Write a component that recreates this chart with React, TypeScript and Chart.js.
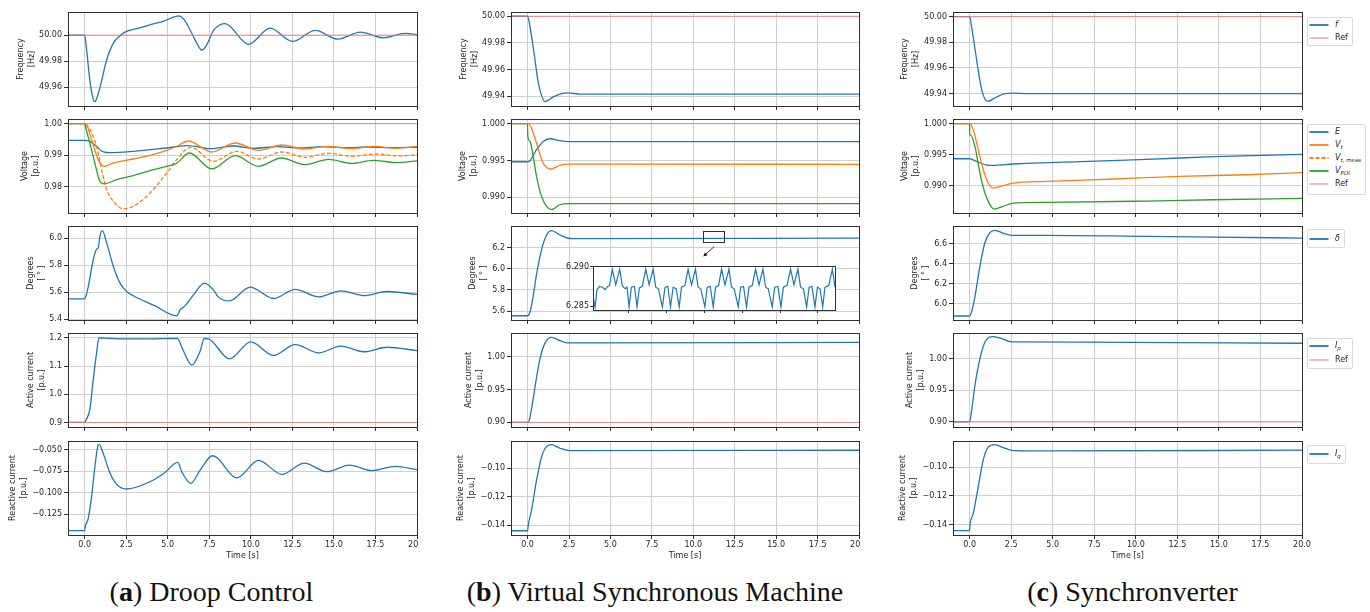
import React, { useEffect, useRef } from 'react';
import { Chart, registerables } from 'chart.js';

Chart.register(...registerables);

// ---------------- shared values ----------------
const T_MIN = -1;
const T_MAX = 20;
const TIME_TICKS = [0, 2.5, 5, 7.5, 10, 12.5, 15, 17.5, 20];
const REF_FREQ = 50.0;
const REF_VOLT = 1.0;
const REF_ACTIVE = 0.9;

// ---------------- (a) Droop Control ----------------
const A_FREQ_T = [-1, 0, 0.12, 0.32, 0.52, 0.62, 0.72, 0.92, 1.33, 1.73, 2.13, 2.43, 3.2, 3.94, 4.8, 5.68, 5.95, 6.35, 6.75, 7.05, 7.35, 7.75, 8.15, 8.45, 9.86, 11.16, 12.51, 13.88, 15.24, 16.59, 17.95, 19.3, 20];
const A_FREQ = [50, 50, 49.9888, 49.9646, 49.9506, 49.9488, 49.951, 49.9595, 49.9811, 49.9939, 49.9995, 50.0023, 50.0052, 50.0079, 50.011, 50.0148, 50.0125, 50.004, 49.9939, 49.9885, 49.9925, 50.0035, 50.008, 50.0089, 49.9929, 50.0054, 49.9952, 50.0036, 49.9969, 50.0023, 49.998, 50.0013, 50.0003];

const A_E_T = [-1, 0, 0.32, 0.72, 1.02, 1.3, 1.6, 2.93, 4.94, 6.24, 7.55, 8.96, 10.16, 11.6, 12.9, 14.3, 15.7, 17.1, 18.5, 20];
const A_E = [0.9947, 0.9947, 0.99439, 0.9928, 0.9913, 0.99085, 0.9908, 0.99122, 0.99228, 0.99302, 0.99206, 0.99291, 0.99217, 0.9927, 0.99228, 0.9927, 0.99238, 0.99259, 0.99238, 0.99249];
const A_VT_T = [-1, 0, 0.15, 0.42, 0.82, 1.16, 1.73, 2.93, 3.94, 4.94, 5.6, 6.24, 7.65, 9.06, 10.46, 11.87, 13.27, 14.68, 16.08, 17.39, 18.8, 20];
const A_VT = [1.0, 1.0, 0.9993, 0.9949, 0.98857, 0.98645, 0.98751, 0.98878, 0.98995, 0.99153, 0.993, 0.9945, 0.991, 0.99386, 0.99153, 0.99323, 0.99196, 0.9928, 0.99206, 0.9928, 0.9922, 0.9928];
const A_VTM_T = [-1, 0, 0.32, 0.72, 1.02, 1.33, 1.73, 2.33, 2.93, 3.94, 4.94, 5.54, 6.39, 7.75, 9.16, 10.46, 11.87, 13.27, 14.68, 16.08, 17.49, 18.9, 20];
const A_VTM = [1.0, 1.0, 0.9981, 0.9928, 0.9854, 0.979, 0.97534, 0.97291, 0.97376, 0.97799, 0.98434, 0.98857, 0.99249, 0.98804, 0.99122, 0.98878, 0.99101, 0.98931, 0.99058, 0.98963, 0.99037, 0.98974, 0.99016];
const A_VPOI_T = [-1, 0, 0.08, 0.52, 0.88, 1.16, 1.93, 2.93, 3.94, 4.94, 5.5, 6.31, 7.65, 9.06, 10.46, 11.83, 13.27, 14.68, 16.08, 17.39, 18.8, 20];
const A_VPOI = [1.0, 1.0, 0.9985, 0.9896, 0.98222, 0.98085, 0.98222, 0.98349, 0.98508, 0.98645, 0.9873, 0.99069, 0.98561, 0.98984, 0.98645, 0.9891, 0.98698, 0.98868, 0.98741, 0.98836, 0.9876, 0.98815];

const A_DEG_T = [-1, 0, 0.08, 0.22, 0.52, 0.72, 0.82, 0.92, 1.06, 1.33, 1.73, 2.13, 2.53, 2.93, 4.2, 5.54, 5.74, 6.04, 6.55, 7.21, 7.75, 8.05, 8.71, 9.96, 11.37, 12.67, 14.08, 15.42, 16.79, 18.19, 20];
const A_DEG = [5.55, 5.55, 5.571, 5.642, 5.841, 5.92, 5.93, 6.015, 6.057, 5.965, 5.791, 5.667, 5.605, 5.573, 5.5, 5.424, 5.468, 5.498, 5.58, 5.667, 5.617, 5.563, 5.535, 5.637, 5.553, 5.62, 5.565, 5.61, 5.575, 5.605, 5.583];

const A_ACT_T = [-1, 0, 0.12, 0.32, 0.52, 0.72, 0.86, 2, 4, 5.58, 5.9, 6.45, 6.95, 7.2, 7.45, 8.71, 10.0, 11.37, 12.67, 14.08, 15.42, 16.79, 18.19, 20];
const A_ACT = [0.9, 0.9, 0.912, 0.948, 1.053, 1.147, 1.2, 1.197, 1.197, 1.198, 1.16, 1.1035, 1.153, 1.198, 1.197, 1.126, 1.186, 1.138, 1.176, 1.147, 1.171, 1.151, 1.167, 1.155];

const A_REA_T = [-1, 0, 0.04, 0.22, 0.42, 0.62, 0.82, 0.88, 1.12, 1.53, 1.93, 2.53, 3.94, 4.8, 5.6, 5.84, 6.39, 6.95, 7.69, 7.95, 9.16, 10.46, 11.87, 13.21, 14.58, 15.94, 17.29, 18.69, 20];
const A_REA = [-0.1439, -0.1439, -0.139, -0.1296, -0.1045, -0.0697, -0.0446, -0.0442, -0.0543, -0.0774, -0.0902, -0.0956, -0.0871, -0.077, -0.0647, -0.0755, -0.089, -0.0736, -0.057, -0.059, -0.0828, -0.0624, -0.0786, -0.0655, -0.0755, -0.0678, -0.0743, -0.0693, -0.0732];

// ---------------- (b) Virtual Synchronous Machine ----------------
const B_FREQ_T = [-1, 0, 0.14, 0.44, 0.64, 0.84, 1.05, 1.55, 2.05, 2.45, 3.2, 20];
const B_FREQ = [50, 50, 49.9926, 49.9678, 49.9504, 49.9405, 49.9358, 49.9393, 49.9418, 49.9423, 49.9415, 49.9415];

const B_E_T = [-1, 0, 0.14, 0.54, 0.94, 1.35, 1.95, 2.45, 20];
const B_E = [0.99484, 0.99484, 0.99498, 0.99647, 0.9976, 0.99796, 0.99769, 0.99756, 0.99756];
const B_VT_T = [-1, 0, 0.1, 0.24, 0.54, 0.94, 1.39, 1.95, 2.45, 20];
const B_VT = [1.0, 1.0, 0.99995, 0.9994, 0.99738, 0.99466, 0.99385, 0.99435, 0.99452, 0.99448];
const B_VPOI_T = [-1, 0, 0.01, 0.14, 0.34, 0.54, 0.84, 1.45, 1.95, 2.45, 20];
const B_VPOI = [1.0, 1.0, 0.99837, 0.9976, 0.99557, 0.99285, 0.99014, 0.98833, 0.989, 0.98914, 0.98914];

const B_DEG_T = [-1, 0, 0.14, 0.34, 0.54, 0.84, 1.15, 1.45, 1.95, 2.45, 2.75, 20];
const B_DEG = [5.556, 5.556, 5.587, 5.743, 5.945, 6.178, 6.318, 6.359, 6.318, 6.287, 6.284, 6.2875];

const B_ACT_T = [-1, 0, 0.1, 0.3, 0.5, 0.74, 1.05, 1.45, 1.95, 2.45, 20];
const B_ACT = [0.9, 0.9, 0.903, 0.93, 0.962, 0.996, 1.0206, 1.0294, 1.0245, 1.021, 1.0216];

const B_REA_T = [-1, 0, 0.04, 0.24, 0.54, 0.84, 1.15, 1.45, 1.95, 2.55, 20];
const B_REA = [-0.144, -0.144, -0.14, -0.1295, -0.1086, -0.0923, -0.0847, -0.0835, -0.086, -0.0877, -0.0874];

// inset of (b) rotor angle
const INSET_T_RANGE = [10.61, 11.89];
const INSET_Y_RANGE = [6.2845, 6.2901];
const INSET_X_TICKS = [10.8, 11.0, 11.2, 11.4, 11.6, 11.8];
const INSET_Y_TICKS = [6.285, 6.29];
const ZOOM_BOX_Y = [6.252, 6.356];
const ARROW_FROM = [11.25, 6.207];
const ARROW_TO = [10.6, 6.114];
const INSET_T = [10.61, 10.621, 10.631, 10.645, 10.659, 10.674, 10.688, 10.698, 10.712, 10.73, 10.751, 10.765, 10.78, 10.79, 10.801, 10.813, 10.829, 10.843, 10.855, 10.871, 10.889, 10.907, 10.928, 10.942, 10.956, 10.977, 10.991, 11.006, 11.02, 11.034, 11.05, 11.066, 11.078, 11.096, 11.113, 11.131, 11.152, 11.166, 11.18, 11.202, 11.214, 11.23, 11.246, 11.258, 11.274, 11.29, 11.308, 11.329, 11.343, 11.357, 11.378, 11.391, 11.406, 11.422, 11.435, 11.452, 11.47, 11.488, 11.509, 11.523, 11.537, 11.558, 11.571, 11.588, 11.604, 11.617, 11.636, 11.655, 11.673, 11.694, 11.708, 11.723, 11.74, 11.753, 11.768, 11.784, 11.797, 11.811, 11.825, 11.837, 11.857, 11.876, 11.89];
const INSET_DEG = [6.2862, 6.2849, 6.2871, 6.2875, 6.2874, 6.2871, 6.2875, 6.2876, 6.2897, 6.2877, 6.2897, 6.2876, 6.2872, 6.2874, 6.2849, 6.2874, 6.2875, 6.2849, 6.2873, 6.2875, 6.2897, 6.2877, 6.2897, 6.2874, 6.2872, 6.2849, 6.2874, 6.2875, 6.2849, 6.2874, 6.2872, 6.2849, 6.2874, 6.2876, 6.2897, 6.2877, 6.2897, 6.2874, 6.2872, 6.2849, 6.2874, 6.2875, 6.2849, 6.2874, 6.2876, 6.2897, 6.2877, 6.2897, 6.2874, 6.2872, 6.2849, 6.2874, 6.2875, 6.2849, 6.2874, 6.2876, 6.2897, 6.2877, 6.2897, 6.2874, 6.2872, 6.2849, 6.2874, 6.2875, 6.2849, 6.2874, 6.2876, 6.2897, 6.2877, 6.2897, 6.2874, 6.2872, 6.2849, 6.2874, 6.2875, 6.2849, 6.2874, 6.2872, 6.2849, 6.2874, 6.2876, 6.2897, 6.2874];

// ---------------- (c) Synchronverter ----------------
const C_FREQ_T = [-1, 0, 0.12, 0.42, 0.72, 1.08, 1.62, 2.12, 2.63, 3.5, 20];
const C_FREQ = [50, 50, 49.992, 49.9665, 49.9434, 49.934, 49.9374, 49.94, 49.9405, 49.94, 49.94];

const C_E_T = [-1, 0, 0.42, 1.02, 1.42, 2.63, 6.63, 10.64, 14.65, 20];
const C_E = [0.99435, 0.99435, 0.99392, 0.99333, 0.99328, 0.9935, 0.99387, 0.99425, 0.99468, 0.99505];
const C_VT_T = [-1, 0, 0.22, 0.52, 0.82, 1.12, 1.42, 2.02, 2.63, 4.63, 8.64, 12.65, 16.65, 20];
const C_VT = [1.0, 1.0, 0.99903, 0.99581, 0.99258, 0.99043, 0.98962, 0.99, 0.99043, 0.9907, 0.99108, 0.99151, 0.99177, 0.9921];
const C_VPOI_T = [-1, 0, 0.01, 0.06, 0.32, 0.62, 0.92, 1.22, 1.46, 2.02, 2.63, 4.63, 10.64, 14.65, 20];
const C_VPOI = [1.0, 1.0, 0.99823, 0.99815, 0.99634, 0.99204, 0.98882, 0.98694, 0.98624, 0.98667, 0.9872, 0.98731, 0.98753, 0.98774, 0.98796];

const C_DEG_T = [-1, 0, 0.12, 0.32, 0.62, 0.92, 1.22, 1.52, 2.02, 2.53, 4.63, 10.64, 14.65, 20];
const C_DEG = [5.875, 5.875, 5.919, 6.07, 6.374, 6.61, 6.711, 6.735, 6.705, 6.684, 6.684, 6.674, 6.667, 6.657];

const C_ACT_T = [-1, 0, 0.12, 0.32, 0.62, 0.92, 1.42, 2.02, 2.53, 6.63, 20];
const C_ACT = [0.9, 0.9, 0.918, 0.9577, 1.0, 1.026, 1.0349, 1.0307, 1.0265, 1.026, 1.0243];

const C_REA_T = [-1, 0, 0.02, 0.22, 0.52, 0.82, 1.12, 1.52, 2.02, 2.63, 4.63, 20];
const C_REA = [-0.1442, -0.1442, -0.1407, -0.1321, -0.1135, -0.0949, -0.086, -0.0842, -0.0863, -0.0884, -0.0886, -0.0881];

// ---------------- styles ----------------
const BLUE = '#1f77b4';
const ORANGE = '#ff7f0e';
const GREEN = '#2ca02c';
const REF_COLOR = 'rgba(240,120,120,0.85)';
const GRID = '#cfcfcf';
const DARK = '#303030';
const TEXT = '#262626';
const FONT = 'DejaVu Sans';

Chart.defaults.font.family = FONT;

// layout
const COL_LEFT = [68, 511, 953];
const COL_RIGHT = [417, 859, 1302];
const ROW_TOP = [12, 119, 226, 333, 441];
const PLOT_H = 94;
const YW = 64;
const PAD_TOP = 6;
const RIGHT_PAD = [1, 1, 14];

type Series = { t: number[]; v: number[]; color: string; dash?: number[] };
type PanelSpec = {
  id: string; col: number; row: number; yMin: number; yMax: number;
  yTicks: number[]; yDec: number; yTitle: string[]; gap: number;
  series: Series[]; ref?: number; zoom?: boolean;
};

const TITLE_FREQ = ['Frequency', '[Hz]'];
const TITLE_VOLT = ['Voltage', '[p.u.]'];
const TITLE_DEG = ['Degrees', '[ ° ]'];
const TITLE_ACT = ['Active current', '[p.u.]'];
const TITLE_REA = ['Reactive current', '[p.u.]'];

const PANELS: PanelSpec[] = [
  { id: 'af', col: 0, row: 0, yMin: 49.9455, yMax: 50.0178, yTicks: [49.96, 49.98, 50.0], yDec: 2, yTitle: TITLE_FREQ, gap: 47, series: [{ t: A_FREQ_T, v: A_FREQ, color: BLUE }], ref: REF_FREQ },
  { id: 'av', col: 0, row: 1, yMin: 0.9716, yMax: 1.0015, yTicks: [0.98, 0.99, 1.0], yDec: 2, yTitle: TITLE_VOLT, gap: 43, series: [
    { t: A_E_T, v: A_E, color: BLUE }, { t: A_VT_T, v: A_VT, color: ORANGE }, { t: A_VTM_T, v: A_VTM, color: ORANGE, dash: [4, 2] }, { t: A_VPOI_T, v: A_VPOI, color: GREEN }], ref: REF_VOLT },
  { id: 'ad', col: 0, row: 2, yMin: 5.393, yMax: 6.092, yTicks: [5.4, 5.6, 5.8, 6.0], yDec: 1, yTitle: TITLE_DEG, gap: 37, series: [{ t: A_DEG_T, v: A_DEG, color: BLUE }] },
  { id: 'aa', col: 0, row: 3, yMin: 0.8838, yMax: 1.2176, yTicks: [0.9, 1.0, 1.1, 1.2], yDec: 1, yTitle: TITLE_ACT, gap: 37, series: [{ t: A_ACT_T, v: A_ACT, color: BLUE }], ref: REF_ACTIVE },
  { id: 'ar', col: 0, row: 4, yMin: -0.149, yMax: -0.0399, yTicks: [-0.125, -0.1, -0.075, -0.05], yDec: 3, yTitle: TITLE_REA, gap: 55, series: [{ t: A_REA_T, v: A_REA, color: BLUE }] },

  { id: 'bf', col: 1, row: 0, yMin: 49.9325, yMax: 50.0032, yTicks: [49.94, 49.96, 49.98, 50.0], yDec: 2, yTitle: TITLE_FREQ, gap: 47, series: [{ t: B_FREQ_T, v: B_FREQ, color: BLUE }], ref: REF_FREQ },
  { id: 'bv', col: 1, row: 1, yMin: 0.98788, yMax: 1.00064, yTicks: [0.99, 0.995, 1.0], yDec: 3, yTitle: TITLE_VOLT, gap: 48, series: [
    { t: B_E_T, v: B_E, color: BLUE }, { t: B_VT_T, v: B_VT, color: ORANGE }, { t: B_VPOI_T, v: B_VPOI, color: GREEN }], ref: REF_VOLT },
  { id: 'bd', col: 1, row: 2, yMin: 5.516, yMax: 6.4024, yTicks: [5.6, 5.8, 6.0, 6.2], yDec: 1, yTitle: TITLE_DEG, gap: 38, series: [{ t: B_DEG_T, v: B_DEG, color: BLUE }], zoom: true },
  { id: 'ba', col: 1, row: 3, yMin: 0.893, yMax: 1.036, yTicks: [0.9, 0.95, 1.0], yDec: 2, yTitle: TITLE_ACT, gap: 42, series: [{ t: B_ACT_T, v: B_ACT, color: BLUE }], ref: REF_ACTIVE },
  { id: 'br', col: 1, row: 4, yMin: -0.147, yMax: -0.0809, yTicks: [-0.14, -0.12, -0.1], yDec: 2, yTitle: TITLE_REA, gap: 50, series: [{ t: B_REA_T, v: B_REA, color: BLUE }] },

  { id: 'cf', col: 2, row: 0, yMin: 49.9304, yMax: 50.0036, yTicks: [49.94, 49.96, 49.98, 50.0], yDec: 2, yTitle: TITLE_FREQ, gap: 48, series: [{ t: C_FREQ_T, v: C_FREQ, color: BLUE }], ref: REF_FREQ },
  { id: 'cv', col: 2, row: 1, yMin: 0.9856, yMax: 1.00076, yTicks: [0.99, 0.995, 1.0], yDec: 3, yTitle: TITLE_VOLT, gap: 48, series: [
    { t: C_E_T, v: C_E, color: BLUE }, { t: C_VT_T, v: C_VT, color: ORANGE }, { t: C_VPOI_T, v: C_VPOI, color: GREEN }], ref: REF_VOLT },
  { id: 'cd', col: 2, row: 2, yMin: 5.835, yMax: 6.778, yTicks: [6.0, 6.2, 6.4, 6.6], yDec: 1, yTitle: TITLE_DEG, gap: 38, series: [{ t: C_DEG_T, v: C_DEG, color: BLUE }] },
  { id: 'ca', col: 2, row: 3, yMin: 0.892, yMax: 1.0405, yTicks: [0.9, 0.95, 1.0], yDec: 2, yTitle: TITLE_ACT, gap: 43, series: [{ t: C_ACT_T, v: C_ACT, color: BLUE }], ref: REF_ACTIVE },
  { id: 'cr', col: 2, row: 4, yMin: -0.1472, yMax: -0.0817, yTicks: [-0.14, -0.12, -0.1], yDec: 2, yTitle: TITLE_REA, gap: 50, series: [{ t: C_REA_T, v: C_REA, color: BLUE }] },
];

const fmt = (v: number, dec: number) => v.toFixed(dec).replace('-', '\u2212');

const alignPx = (p: number) => Math.round(p - 0.5) + 0.5;

const framePlugin = {
  id: 'frame',
  afterDatasetsDraw(chart: any) {
    const { ctx, chartArea: a } = chart;
    ctx.save();
    ctx.strokeStyle = DARK;
    ctx.lineWidth = 1;
    const l = alignPx(a.left), r = alignPx(a.right), t = alignPx(a.top), b = alignPx(a.bottom);
    ctx.strokeRect(l, t, r - l, b - t);
    ctx.restore();
  },
};

const whiteAreaPlugin = {
  id: 'whiteArea',
  beforeDraw(chart: any) {
    const { ctx, chartArea: a } = chart;
    ctx.save();
    ctx.fillStyle = '#ffffff';
    ctx.fillRect(a.left, a.top, a.right - a.left, a.bottom - a.top);
    ctx.restore();
  },
};

const zoomMarkPlugin = {
  id: 'zoomMark',
  afterDatasetsDraw(chart: any) {
    const { ctx } = chart;
    const xs = chart.scales.x, ys = chart.scales.y;
    const x0 = xs.getPixelForValue(INSET_T_RANGE[0]);
    const x1 = xs.getPixelForValue(INSET_T_RANGE[1]);
    const y0 = ys.getPixelForValue(ZOOM_BOX_Y[1]);
    const y1 = ys.getPixelForValue(ZOOM_BOX_Y[0]);
    ctx.save();
    ctx.strokeStyle = DARK;
    ctx.lineWidth = 1;
    ctx.strokeRect(Math.round(x0) + 0.5, Math.round(y0) + 0.5, Math.round(x1 - x0), Math.round(y1 - y0));
    const ax0 = xs.getPixelForValue(ARROW_FROM[0]), ay0 = ys.getPixelForValue(ARROW_FROM[1]);
    const ax1 = xs.getPixelForValue(ARROW_TO[0]), ay1 = ys.getPixelForValue(ARROW_TO[1]);
    const ang = Math.atan2(ay1 - ay0, ax1 - ax0);
    const hl = 4.5;
    ctx.beginPath();
    ctx.moveTo(ax0, ay0);
    ctx.lineTo(ax1 - 2 * Math.cos(ang), ay1 - 2 * Math.sin(ang));
    ctx.stroke();
    ctx.fillStyle = '#111';
    ctx.beginPath();
    ctx.moveTo(ax1, ay1);
    ctx.lineTo(ax1 - hl * Math.cos(ang - 0.45), ay1 - hl * Math.sin(ang - 0.45));
    ctx.lineTo(ax1 - hl * Math.cos(ang + 0.45), ay1 - hl * Math.sin(ang + 0.45));
    ctx.closePath();
    ctx.fill();
    ctx.restore();
  },
};

function panelGeom(p: PanelSpec) {
  const isBottom = p.row === 4;
  const bottomH = isBottom ? 28 : 6;
  const left = COL_LEFT[p.col] - YW;
  const top = ROW_TOP[p.row] - PAD_TOP;
  const width = YW + (COL_RIGHT[p.col] - COL_LEFT[p.col]) + RIGHT_PAD[p.col];
  const height = PAD_TOP + PLOT_H + bottomH;
  return { isBottom, bottomH, left, top, width, height };
}

const fixX = (h: number) => (s: any) => { s.height = h; s.paddingLeft = 0; s.paddingRight = 0; };
const fixY = (w: number) => (s: any) => { s.width = w; s.paddingTop = 0; s.paddingBottom = 0; };

function buildConfig(p: PanelSpec): any {
  const g = panelGeom(p);
  const n = p.series.length;
  const datasets: any[] = p.series.map((s, i) => ({
    data: s.t.map((x, k) => ({ x, y: s.v[k] })),
    borderColor: s.color,
    borderWidth: 1.3,
    borderDash: s.dash || [],
    pointRadius: 0,
    fill: false,
    cubicInterpolationMode: 'monotone',
    order: n - i + 1,
  }));
  if (p.ref !== undefined) {
    datasets.push({
      data: [{ x: T_MIN, y: p.ref }, { x: T_MAX, y: p.ref }],
      borderColor: REF_COLOR,
      borderWidth: 1,
      pointRadius: 0,
      fill: false,
      order: 0,
    });
  }
  const lh = 8 * 1.35;
  const titlePad = YW - p.gap - lh / 2;
  const plugins: any[] = [framePlugin];
  if (p.zoom) plugins.push(zoomMarkPlugin);
  return {
    type: 'line',
    data: { datasets },
    plugins,
    options: {
      responsive: false,
      animation: false,
      devicePixelRatio: 1,
      events: [],
      layout: { padding: { top: PAD_TOP, right: RIGHT_PAD[p.col], left: 0, bottom: 0 }, autoPadding: false },
      plugins: { legend: { display: false }, tooltip: { enabled: false }, title: { display: false } },
      scales: {
        x: {
          type: 'linear',
          min: T_MIN,
          max: T_MAX,
          bounds: 'data',
          afterBuildTicks: (s: any) => { s.ticks = TIME_TICKS.map((v) => ({ value: v })); },
          afterFit: fixX(g.bottomH),
          grid: { color: GRID, lineWidth: 1, drawTicks: true, tickLength: 4, tickColor: DARK },
          border: { display: false },
          ticks: {
            display: g.isBottom, color: TEXT, font: { family: FONT, size: 8 }, padding: 1.5,
            maxRotation: 0, autoSkip: false, callback: (v: any) => fmt(Number(v), 1),
          },
          title: {
            display: g.isBottom, text: 'Time [s]', color: TEXT,
            font: { family: FONT, size: 8, lineHeight: 1.2 }, padding: { top: 0, bottom: 2.5 },
          },
        },
        y: {
          type: 'linear',
          min: p.yMin,
          max: p.yMax,
          bounds: 'data',
          afterBuildTicks: (s: any) => { s.ticks = p.yTicks.map((v) => ({ value: v })); },
          afterFit: fixY(YW),
          grid: { color: GRID, lineWidth: 1, drawTicks: true, tickLength: 4, tickColor: DARK },
          border: { display: false },
          ticks: {
            color: TEXT, font: { family: FONT, size: 8 }, padding: 2, autoSkip: false,
            callback: (v: any) => fmt(Number(v), p.yDec),
          },
          title: {
            display: true, text: p.yTitle, color: TEXT,
            font: { family: FONT, size: 8, lineHeight: 1.35 }, padding: { top: titlePad, bottom: 0 },
          },
        },
      },
    },
  };
}

function Panel({ spec }: { spec: PanelSpec }) {
  const ref = useRef<HTMLCanvasElement>(null);
  const g = panelGeom(spec);
  useEffect(() => {
    const chart = new Chart(ref.current as HTMLCanvasElement, buildConfig(spec));
    return () => chart.destroy();
  }, []);
  return (
    <canvas
      ref={ref}
      width={g.width}
      height={g.height}
      style={{ position: 'absolute', left: g.left, top: g.top, width: g.width, height: g.height }}
    />
  );
}

// inset geometry
const INSET_BOX = { left: 593, top: 266, right: 835, bottom: 310 };
const INSET_YW = 40;

function Inset() {
  const ref = useRef<HTMLCanvasElement>(null);
  const width = INSET_YW + (INSET_BOX.right - INSET_BOX.left) + 2;
  const height = 6 + (INSET_BOX.bottom - INSET_BOX.top) + 5;
  useEffect(() => {
    const cfg: any = {
      type: 'line',
      data: {
        datasets: [{
          data: INSET_T.map((x, k) => ({ x, y: INSET_DEG[k] })),
          borderColor: BLUE, borderWidth: 1.2, pointRadius: 0, fill: false, tension: 0,
        }],
      },
      plugins: [whiteAreaPlugin, framePlugin],
      options: {
        responsive: false, animation: false, devicePixelRatio: 1, events: [],
        layout: { padding: { top: 6, right: 2, left: 0, bottom: 0 }, autoPadding: false },
        plugins: { legend: { display: false }, tooltip: { enabled: false } },
        scales: {
          x: {
            type: 'linear', min: INSET_T_RANGE[0], max: INSET_T_RANGE[1], bounds: 'data',
            afterBuildTicks: (s: any) => { s.ticks = INSET_X_TICKS.map((v) => ({ value: v })); },
            afterFit: fixX(5),
            grid: { drawOnChartArea: false, drawTicks: true, tickLength: 3, tickColor: DARK, color: DARK },
            border: { display: false },
            ticks: { display: false },
          },
          y: {
            type: 'linear', min: INSET_Y_RANGE[0], max: INSET_Y_RANGE[1], bounds: 'data',
            afterBuildTicks: (s: any) => { s.ticks = INSET_Y_TICKS.map((v) => ({ value: v })); },
            afterFit: fixY(INSET_YW),
            grid: { drawOnChartArea: false, drawTicks: true, tickLength: 3, tickColor: DARK, color: DARK },
            border: { display: false },
            ticks: { color: TEXT, font: { family: FONT, size: 8 }, padding: 1, callback: (v: any) => fmt(Number(v), 3) },
          },
        },
      },
    };
    const chart = new Chart(ref.current as HTMLCanvasElement, cfg);
    return () => chart.destroy();
  }, []);
  return (
    <canvas
      ref={ref}
      width={width}
      height={height}
      style={{ position: 'absolute', left: INSET_BOX.left - INSET_YW, top: INSET_BOX.top - 6, width, height }}
    />
  );
}

// ---------------- legends ----------------
type LegendEntry = { label: React.ReactNode; color: string; dash?: boolean; thin?: boolean };

const Sub = ({ children }: { children: React.ReactNode }) => (
  <sub style={{ fontSize: '5.5px', fontStyle: 'italic', verticalAlign: '-2px', lineHeight: 0 }}>{children}</sub>
);

const LEGENDS: { top: number; rowH: number; padT: number; padB: number; entries: LegendEntry[] }[] = [
  { top: 17, rowH: 12.7, padT: 1, padB: 1, entries: [
    { label: <i>f</i>, color: BLUE }, { label: 'Ref', color: REF_COLOR, thin: true }] },
  { top: 124, rowH: 13.1, padT: 0.5, padB: 3, entries: [
    { label: <i>E</i>, color: BLUE },
    { label: <span><i>V</i><Sub>t</Sub></span>, color: ORANGE },
    { label: <span><i>V</i><Sub>t, meas</Sub></span>, color: ORANGE, dash: true },
    { label: <span><i>V</i><Sub>POI</Sub></span>, color: GREEN },
    { label: 'Ref', color: REF_COLOR, thin: true }] },
  { top: 229, rowH: 13, padT: 2, padB: 2, entries: [{ label: <i>δ</i>, color: BLUE }] },
  { top: 338, rowH: 13.6, padT: 0.6, padB: 1.6, entries: [
    { label: <span><i>I</i><Sub>p</Sub></span>, color: BLUE }, { label: 'Ref', color: REF_COLOR, thin: true }] },
  { top: 445, rowH: 13, padT: 1, padB: 2.5, entries: [{ label: <span><i>I</i><Sub>q</Sub></span>, color: BLUE }] },
];

function Legend({ top, rowH, padT, padB, entries }: any) {
  return (
    <div style={{
      position: 'absolute', left: 1307, top, border: '1px solid #d9d9d9', borderRadius: 2,
      background: '#fff', padding: `${padT}px 4px ${padB}px 1px`, fontFamily: FONT, fontSize: 8, color: TEXT,
      boxSizing: 'border-box',
    }}>
      {entries.map((e: LegendEntry, i: number) => (
        <div key={i} style={{ height: rowH, display: 'flex', alignItems: 'center', lineHeight: 1, whiteSpace: 'nowrap' }}>
          <svg width={20} height={4} style={{ display: 'block' }}>
            <line x1={0.5} y1={2} x2={19.5} y2={2} stroke={e.color} strokeWidth={e.thin ? 1.2 : 1.8}
              strokeDasharray={e.dash ? '4 2' : undefined} />
          </svg>
          <span style={{ marginLeft: 6 }}>{e.label}</span>
        </div>
      ))}
    </div>
  );
}

// ---------------- captions ----------------
const CAPTIONS = [
  { tag: 'a', text: 'Droop Control', center: 211.5 },
  { tag: 'b', text: 'Virtual Synchronous Machine', center: 655 },
  { tag: 'c', text: 'Synchronverter', center: 1132.5 },
];

export default function App() {
  return (
    <div style={{ position: 'absolute', left: 0, top: 0, width: 1370, height: 612, background: '#fff', overflow: 'hidden' }}>
      {PANELS.map((p) => <Panel key={p.id} spec={p} />)}
      <Inset />
      {LEGENDS.map((l, i) => <Legend key={i} {...l} />)}
      {CAPTIONS.map((c) => (
        <div key={c.tag} style={{
          position: 'absolute', left: c.center - 250, width: 500, top: 578, textAlign: 'center',
          fontFamily: '"Liberation Serif", serif', fontSize: 28, lineHeight: '28px', color: '#111', whiteSpace: 'nowrap',
        }}>
          (<b>{c.tag}</b>) {c.text}
        </div>
      ))}
    </div>
  );
}
